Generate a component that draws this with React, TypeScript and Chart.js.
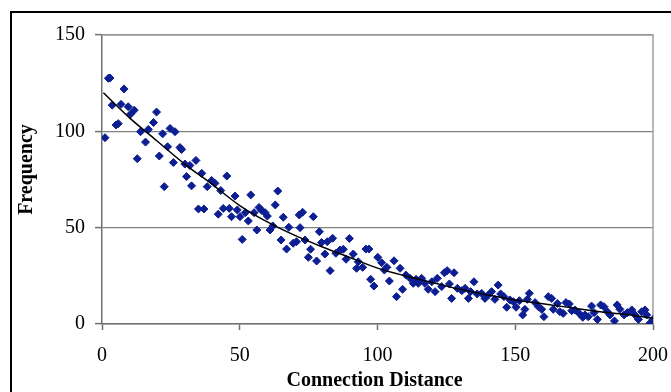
import React, { useEffect, useRef } from 'react';
import { Chart, registerables } from 'chart.js';

Chart.register(...registerables);

const xValues = [
  1.1, 2.3, 2.9, 3.7, 5.1, 5.9, 6.9, 8, 9.5, 10.4, 11.7, 12.8, 14, 15.8, 16.8, 18.7, 19.8, 20.8, 22, 22.6,
  23.8, 24.7, 25.9, 26.5, 28.3, 28.9, 30.1, 30.7, 31.9, 32.5, 34.1, 35, 36.2, 37, 38.2, 39.8, 41, 42.2, 43.1, 44,
  45.3, 46.2, 47, 48.3, 49.1, 50.1, 50.9, 52, 53.1, 54, 55.2, 56.2, 57, 58, 59.2, 60, 61, 62, 62.9, 63.8,
  65, 65.8, 67, 67.8, 69.4, 70.6, 71.6, 71.9, 72.8, 73.7, 74.9, 75.7, 76.7, 77.9, 78.9, 79.7, 80.9, 81.8, 82.8, 83.7,
  84.9, 86.4, 87.6, 88.6, 89.8, 91.2, 92.4, 93, 94.6, 95.8, 96.9, 97.5, 98.7, 100.1, 101.5, 102.5, 103.4, 104.3, 106, 106.9,
  108.2, 109.1, 110.3, 111.8, 113, 114, 114.8, 116, 117.2, 118.4, 119.7, 120.9, 121.7, 123.3, 124.3, 125.3, 126.1, 126.9, 127.8, 129,
  130.6, 131.8, 133, 133.8, 135, 136.2, 137.8, 139, 140.2, 141.4, 142.6, 143.8, 144.7, 145.9, 146.9, 148.1, 149.3, 150.3, 151.5, 152.7,
  153.5, 154.4, 155.1, 157.2, 158.4, 159.6, 160.4, 162, 163.2, 163.8, 165.3, 166.2, 167.4, 168.4, 169.6, 170.5, 171.7, 173.2, 174.5, 175.3,
  176.5, 177.7, 178.6, 179.8, 181, 182.2, 183.4, 184.4, 186, 187, 188, 189.5, 190.7, 192.3, 193.5, 194.7, 195.9, 197.1, 197.7, 198.9,
  200,
];

const yValues = [
  96.7, 127.5, 127.7, 113.6, 103.3, 104, 114, 122, 112.8, 109, 111, 85.8, 99.8, 94.4, 101, 104.6, 110, 87.2, 98.7, 71.3,
  92, 101.5, 83.8, 99.8, 91.6, 90.6, 83, 76.5, 82.3, 71.7, 84.9, 59.7, 78.2, 59.7, 71.3, 74.5, 73, 57, 69.3, 60,
  76.8, 60, 55.7, 66.4, 59.2, 55.7, 43.9, 57.8, 53.5, 67, 57.8, 48.8, 60.5, 58.9, 57.8, 56, 48.8, 50.9, 61.8, 69,
  43.6, 55.4, 38.9, 50.2, 41.9, 42.7, 56.6, 50, 58, 43.6, 34.6, 38.8, 55.7, 32.7, 47.9, 42.3, 36.3, 42.7, 27.7, 44.5,
  36.7, 38.4, 38.8, 33.6, 44.4, 36.3, 28.9, 32.3, 29.4, 38.9, 38.9, 23.2, 19.7, 34.6, 31.8, 28, 29.4, 22.3, 32.8, 14.2,
  28.9, 18, 25.4, 23.7, 21.1, 23.2, 21.1, 23.7, 21.1, 18, 21.9, 16.8, 23.7, 19.4, 26.6, 27.7, 20.8, 13.3, 26.6, 18.5,
  17.3, 18.5, 13.3, 16.8, 21.9, 15.6, 15.9, 13.3, 15, 16.8, 12.8, 20.2, 15.6, 14.2, 8.7, 12.5, 11.6, 8.7, 12.1, 4.7,
  7.6, 12.8, 15.9, 11.1, 9, 7.6, 3.8, 14.2, 13.3, 7.6, 10.7, 6.4, 5.5, 11.1, 10.4, 6.9, 7.3, 5.5, 3.5, 4.7,
  3.8, 9.3, 5.9, 2.4, 9.9, 9, 6.4, 4.7, 1.6, 9.9, 7.6, 4.7, 5.9, 7.3, 4.7, 2.4, 6.4, 7.3, 4.7, 0.4,
  2.4,
];

const trendX = [0.5, 10, 20, 30, 40, 50, 60, 70, 80, 90, 100, 110, 120, 130, 140, 150, 160, 170, 180, 190, 200];
const trendY = [120, 107, 95, 83, 72.5, 61.5, 53, 46, 40, 34.5, 29, 25, 21.5, 18, 15, 12.5, 10.5, 8.5, 6.5, 5, 3];

const xTickValues = [0, 50, 100, 150, 200];
const yTickValues = [0, 50, 100, 150];
const xTitle = 'Connection Distance';
const yTitle = 'Frequency';

const FONT = "'Liberation Serif', 'Times New Roman', serif";

const framePlugin = {
  id: 'frame',
  beforeDatasetsDraw(chart: any) {
    const { ctx, chartArea: a } = chart;
    ctx.save();
    ctx.strokeStyle = '#a0a0a0';
    ctx.lineWidth = 1.5;
    ctx.beginPath();
    ctx.moveTo(a.left, a.top);
    ctx.lineTo(a.right, a.top);
    ctx.lineTo(a.right, a.bottom);
    ctx.stroke();
    ctx.restore();
  },
  afterDraw(chart: any) {
    const { ctx, chartArea: a } = chart;
    ctx.save();
    ctx.fillStyle = '#000';
    ctx.font = `bold 20px ${FONT}`;
    ctx.textAlign = 'center';
    ctx.textBaseline = 'middle';
    ctx.fillText(xTitle, (a.left + a.right) / 2 - 3, a.bottom + 57);
    ctx.translate(27, (a.top + a.bottom) / 2 - 10);
    ctx.rotate(-Math.PI / 2);
    ctx.fillText(yTitle, 0, 0);
    ctx.restore();
  },
};

export default function App() {
  const ref = useRef<HTMLCanvasElement | null>(null);

  useEffect(() => {
    if (!ref.current) return;
    const chart = new Chart(ref.current, {
      type: 'scatter',
      data: {
        datasets: [
          {
            type: 'line',
            data: trendX.map((x, i) => ({ x, y: trendY[i] })),
            borderColor: '#000',
            borderWidth: 1.5,
            pointRadius: 0,
            fill: false,
            cubicInterpolationMode: 'monotone',
          } as any,
          {
            data: xValues.map((x, i) => ({ x, y: yValues[i] })),
            pointStyle: 'rectRot',
            pointRadius: 4,
            pointBorderWidth: 1,
            backgroundColor: '#0c1e92',
            borderColor: '#0c1e92',
          },
        ],
      },
      options: {
        animation: false,
        responsive: false,
        maintainAspectRatio: false,
        layout: { padding: { top: 35, right: 18, left: 0, bottom: 0 } },
        plugins: { legend: { display: false }, tooltip: { enabled: false } },
        scales: {
          x: {
            type: 'linear',
            min: 0,
            max: 200,
            afterFit: (s: any) => { s.height = 68; s.paddingLeft = 0; s.paddingRight = 0; },
            afterBuildTicks: (s: any) => { s.ticks = xTickValues.map((v) => ({ value: v })); },
            grid: { display: true, drawOnChartArea: false, drawTicks: true, tickLength: 6, tickColor: '#707070', tickWidth: 1.5 },
            border: { display: true, color: '#707070', width: 1.5 },
            ticks: { color: '#000', font: { family: FONT, size: 20 }, padding: 14, maxRotation: 0 },
          },
          y: {
            type: 'linear',
            min: 0,
            max: 150,
            afterFit: (s: any) => { s.width = 102; s.paddingTop = 0; s.paddingBottom = 0; },
            afterBuildTicks: (s: any) => { s.ticks = yTickValues.map((v) => ({ value: v })); },
            grid: { color: '#808080', lineWidth: 1.2, drawTicks: true, tickLength: 7, tickColor: '#707070', tickWidth: 1.5 },
            border: { display: true, color: '#707070', width: 1.5 },
            ticks: { color: '#000', font: { family: FONT, size: 20 }, padding: 10 },
          },
        },
      },
      plugins: [framePlugin],
    });
    return () => chart.destroy();
  }, []);

  return (
    <div style={{ position: 'fixed', left: 0, top: 0, width: 671, height: 392, overflow: 'hidden', background: '#fff' }}>
      <canvas ref={ref} width={671} height={392} style={{ position: 'absolute', left: 0, top: 0, width: 671, height: 392 }} />
      <div style={{ position: 'absolute', left: 10, top: 11, width: 700, height: 420, border: '2px solid #000', pointerEvents: 'none' }} />
    </div>
  );
}
